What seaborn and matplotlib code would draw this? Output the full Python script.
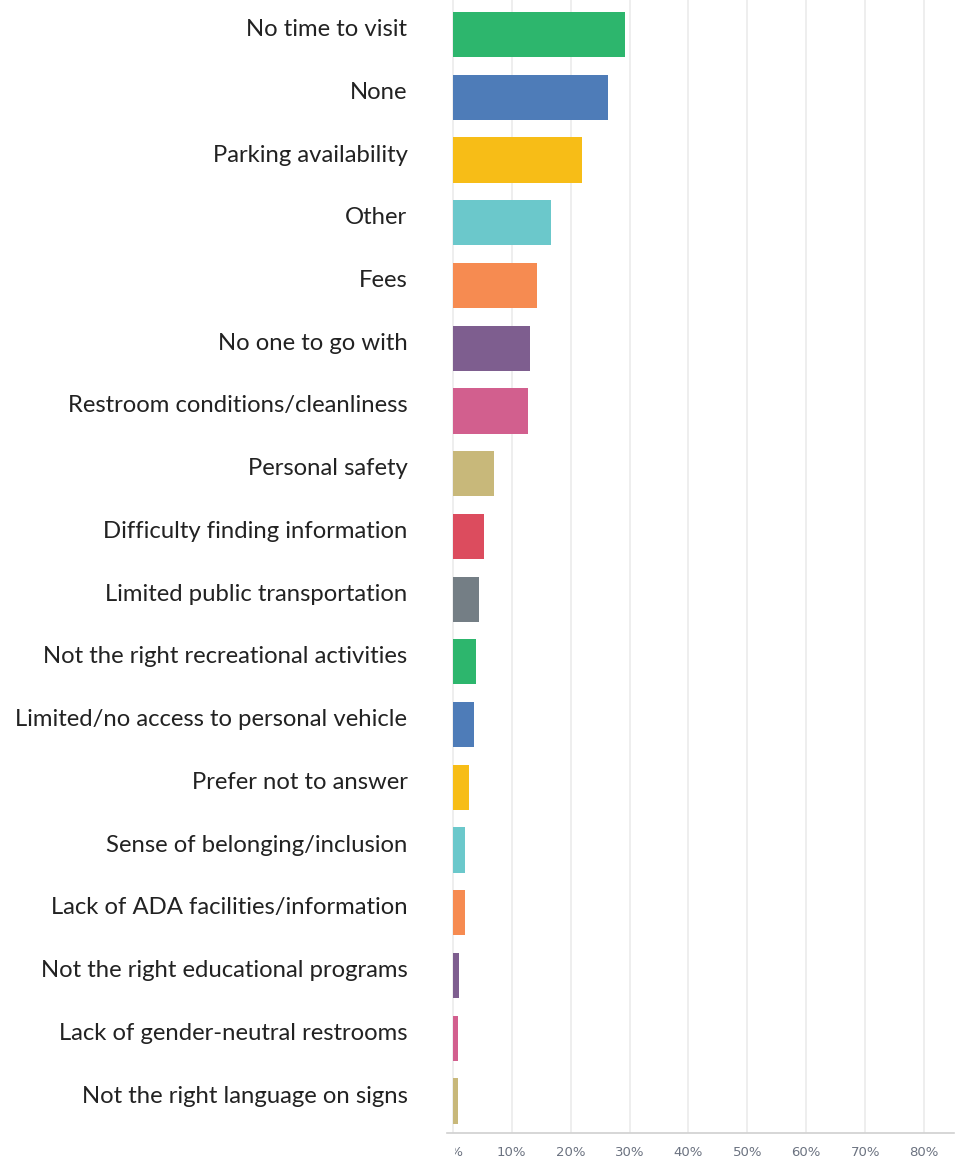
import matplotlib
matplotlib.use("Agg")
import matplotlib.pyplot as plt
import seaborn as sns
import pandas as pd
from matplotlib.ticker import FuncFormatter
from matplotlib.transforms import Bbox, TransformedBbox, ScaledTranslation

categories = [
    "No time to visit",
    "None",
    "Parking availability",
    "Other",
    "Fees",
    "No one to go with",
    "Restroom conditions/cleanliness",
    "Personal safety",
    "Difficulty finding information",
    "Limited public transportation",
    "Not the right recreational activities",
    "Limited/no access to personal vehicle",
    "Prefer not to answer",
    "Sense of belonging/inclusion",
    "Lack of ADA facilities/information",
    "Not the right educational programs",
    "Lack of gender-neutral restrooms",
    "Not the right language on signs",
]
percent = [29.3, 26.4, 21.9, 16.7, 14.3, 13.1, 12.8, 7.0, 5.3, 4.5, 4.0, 3.6,
           2.7, 2.0, 2.0, 1.0, 0.8, 0.8]
base_colors = ["#2db66d", "#4e7cb8", "#f7bd17", "#6bc8cb", "#f68b51",
               "#7e5e8f", "#d25f8e", "#c8b87a", "#dc4c5e", "#747e85"]
colors = [base_colors[i % len(base_colors)] for i in range(len(categories))]
x_ticks = [0, 10, 20, 30, 40, 50, 60, 70, 80]

df = pd.DataFrame({"category": categories, "percent": percent})

sns.set_theme(style="white")
plt.rcParams["font.family"] = ["Lato", "DejaVu Sans"]

fig = plt.figure(figsize=(9.58, 11.61), dpi=100)
ax = fig.add_axes([447 / 958, 28 / 1161, 506.5 / 958, 1133 / 1161])

sns.barplot(data=df, x="percent", y="category", hue="category",
            palette=colors, legend=False, width=0.72, ax=ax,
            saturation=1, edgecolor="none")

ax.set_xlim(-1, 85)
ax.set_ylim(17.51, -0.55)
ax.set_xticks(x_ticks)
ax.xaxis.set_major_formatter(FuncFormatter(lambda v, p: f"{int(v)}%"))
ax.set_xlabel("")
ax.set_ylabel("")

ax.grid(axis="x", color="#ebebeb", linewidth=1.2)
ax.set_axisbelow(True)
for side in ["top", "right", "left"]:
    ax.spines[side].set_visible(False)
ax.spines["bottom"].set_color("#d0d0d0")
ax.spines["bottom"].set_linewidth(1.2)

ax.tick_params(axis="y", length=0, pad=28.5, labelsize=17.2, labelcolor="#222222")
ax.tick_params(axis="x", length=0, pad=9, labelsize=9.5, labelcolor="#6b7280")
for lab in ax.get_xticklabels():
    lab.set_fontfamily("DejaVu Sans")

# category names sit a little above the bar centres
lift = ScaledTranslation(0, 5 / 72, fig.dpi_scale_trans)
for lab in ax.get_yticklabels():
    lab.set_transform(lab.get_transform() + lift)

# the first tick label is cut at the left edge of the plot area
fig.canvas.draw()
clip = TransformedBbox(Bbox([[455 / 958, 0], [1, 1]]), fig.transFigure)
first = ax.get_xticklabels()[0]
first.set_clip_box(clip)
first.set_clip_on(True)

fig.savefig("out.png", dpi=100, facecolor="white")
